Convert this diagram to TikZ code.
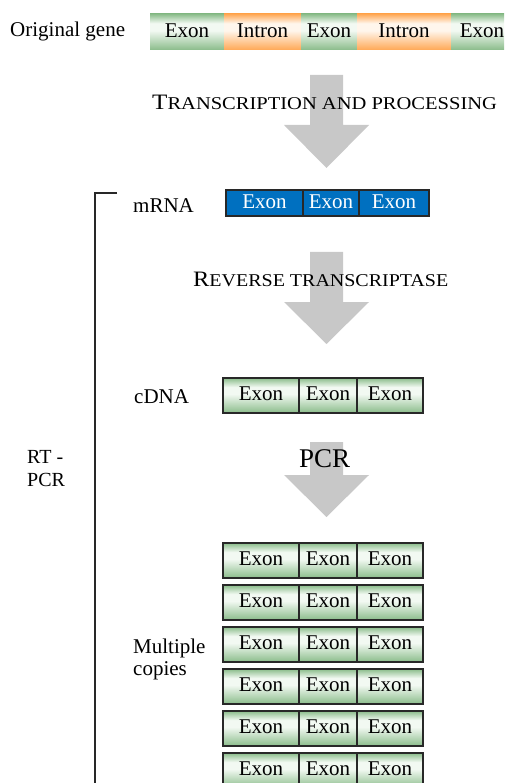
\documentclass[tikz,border=0pt]{standalone}
\usepackage{fontspec}
\setmainfont{Liberation Serif}
\usepackage{graphicx}
\definecolor{exG}{RGB}{138,188,138}
\definecolor{exL}{RGB}{242,249,242}
\definecolor{inO}{RGB}{255,168,85}
\definecolor{inL}{RGB}{255,246,236}
\definecolor{mB}{RGB}{0,112,192}
\definecolor{arG}{RGB}{200,200,200}
\definecolor{bd}{RGB}{40,40,40}
\pgfdeclareverticalshading{exonsh}{100bp}{color(0bp)=(exG); color(25bp)=(exG); color(52bp)=(exL); color(62bp)=(exL); color(75bp)=(exG); color(100bp)=(exG)}
\pgfdeclareverticalshading{intronsh}{100bp}{color(0bp)=(inO); color(25bp)=(inO); color(52bp)=(inL); color(62bp)=(inL); color(75bp)=(inO); color(100bp)=(inO)}
\newcommand{\bodyfont}{\fontsize{21}{23}\selectfont}
\tikzset{
  segbase/.style={anchor=north west, inner sep=0pt, outer sep=0pt, text depth=3pt, font=\bodyfont},
  gexon/.style={segbase, shade, shading=exonsh, minimum height=36pt},
  gintron/.style={segbase, shade, shading=intronsh, minimum height=36pt},
  mseg/.style={segbase, fill=mB, draw=bd, line width=1.4pt, text=white, minimum height=26pt},
  cseg/.style={segbase, shade, shading=exonsh, draw=bd, line width=1.6pt, minimum height=35pt},
  lbl/.style={anchor=base west, inner sep=0pt, font=\bodyfont},
  bigarrow/.style={fill=arG, draw=none},
  steplbl/.style={anchor=base west, inner sep=0pt}
}
\begin{document}
\begin{tikzpicture}[x=1pt,y=-1pt]
\path[use as bounding box] (0,0) rectangle (504,783);
\clip (0,0) rectangle (504,783);
% original gene
\node[lbl] (lgene) at (10,37) {Original gene};
\node[gexon, minimum width=74pt] (g1) at (150,14) {Exon};
\node[gintron, minimum width=77pt] (g2) at (224,14) {Intron};
\node[gexon, minimum width=56pt] (g3) at (301,14) {Exon};
\node[gintron, minimum width=94pt] (g4) at (357,14) {Intron};
\node[gexon, minimum width=62pt] (g5) at (451,14) {Exon};
% arrow 1
\fill[bigarrow] (310,75) -- (343,75) -- (343,125) -- (369,125) -- (326.5,168) -- (284,125) -- (310,125) -- cycle;
\node[steplbl] (t1) at (152,110) {\scalebox{1.14}[1]{{\fontsize{22}{22}\selectfont T}{\fontsize{18}{18}\selectfont RANSCRIPTION AND PROCESSING}}};
% bracket
\draw[bd, line width=2pt] (117,193) -- (95,193) -- (95,790);
% mRNA
\node[lbl] (lm) at (133,213) {mRNA};
\node[mseg, minimum width=77pt] (m1) at (226,190) {Exon};
\node[mseg, minimum width=56pt] (m2) at (303,190) {Exon};
\node[mseg, minimum width=70pt] (m3) at (359,190) {Exon};
% arrow 2
\fill[bigarrow] (310,252) -- (343,252) -- (343,302) -- (369,302) -- (326.5,344) -- (284,302) -- (310,302) -- cycle;
\node[steplbl] (t2) at (193,287) {\scalebox{1.11}[1]{{\fontsize{22}{22}\selectfont R}{\fontsize{18}{18}\selectfont EVERSE TRANSCRIPTASE}}};
% cDNA
\node[lbl] (lc) at (134,403) {cDNA};
\node[cseg, minimum width=76pt] (c1) at (223,378) {Exon};
\node[cseg, minimum width=58pt] (c2) at (299,378) {Exon};
\node[cseg, minimum width=66pt] (c3) at (357,378) {Exon};
% arrow 3
\fill[bigarrow] (310,442) -- (343,442) -- (343,475) -- (369,475) -- (326.5,517) -- (284,475) -- (310,475) -- cycle;
\node[steplbl, font=\fontsize{27}{27}\selectfont] (t3) at (299,467) {PCR};
% RT-PCR label (base = last line)
\node[anchor=base west, inner sep=0pt, align=left, font=\fontsize{20}{23}\selectfont] (lrt) at (27,486) {RT -\\PCR};
% multiple copies label (base = last line)
\node[anchor=base west, inner sep=0pt, align=left, font=\fontsize{21}{22}\selectfont] (lmc) at (133,675) {Multiple\\copies};
% copies
\foreach \i in {0,...,5} {
  \pgfmathsetmacro{\yy}{543+42*\i}
  \node[cseg, minimum width=76pt] (p\i a) at (223,\yy) {Exon};
  \node[cseg, minimum width=58pt] (p\i b) at (299,\yy) {Exon};
  \node[cseg, minimum width=66pt] (p\i c) at (357,\yy) {Exon};
}
\end{tikzpicture}
\end{document}
